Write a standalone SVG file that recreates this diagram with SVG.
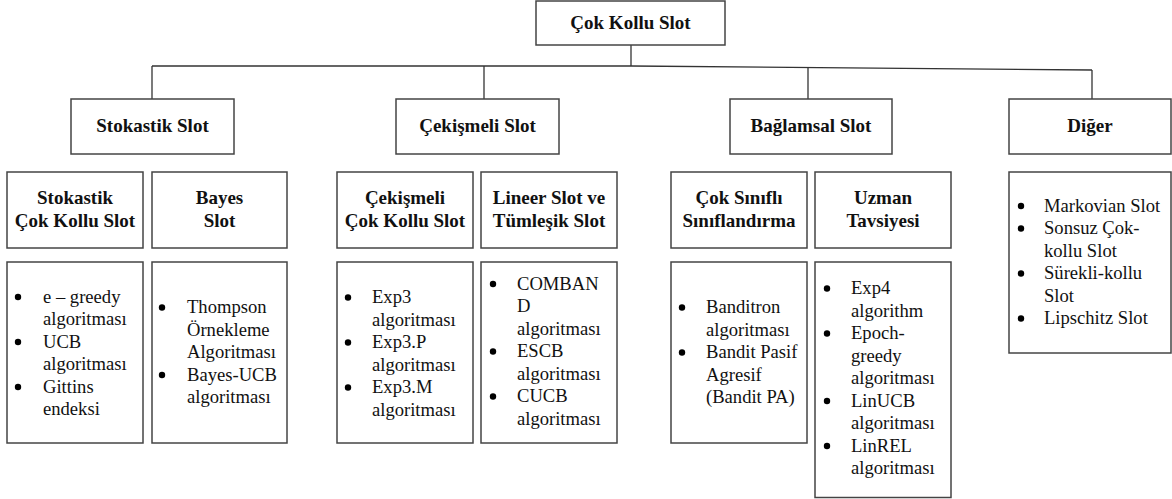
<svg xmlns="http://www.w3.org/2000/svg" width="1172" height="499" viewBox="0 0 1172 499">
  <style>
    .box { fill: #ffffff; stroke: #444444; stroke-width: 1.5; }
    .wire { fill: none; stroke: #333333; stroke-width: 1.3; }
    .head { font-family: "Liberation Serif", "Times New Roman", serif; font-weight: bold; font-size: 19px; fill: #111111; text-anchor: middle; }
    .item { font-family: "Liberation Serif", "Times New Roman", serif; font-size: 18.6px; fill: #111111; }
    .dot { fill: #000000; }
  </style>
  <defs>
    <circle id="bullet" r="3.2" class="dot"/>
  </defs>

  <rect width="1172" height="499" fill="#ffffff"/>

  <!-- tree connectors -->
  <g id="connectors">
    <path class="wire" d="M631,45 V66"/>
    <path class="wire" d="M152,66 H631 L1092,70"/>
    <path class="wire" d="M152,66 V99"/>
    <path class="wire" d="M484,66 V99"/>
    <path class="wire" d="M808,67.5 V99"/>
    <path class="wire" d="M1092,70 V99"/>
  </g>

  <!-- root -->
  <g id="root">
    <rect class="box" x="536" y="1" width="189" height="44"/>
    <text class="head" x="630.5" y="29">Çok Kollu Slot</text>
  </g>

  <!-- first level -->
  <g id="stokastik">
    <rect class="box" x="71" y="99" width="163" height="55"/>
    <text class="head" x="152.5" y="132">Stokastik Slot</text>
  </g>
  <g id="cekismeli">
    <rect class="box" x="396" y="99" width="163" height="55"/>
    <text class="head" x="477.5" y="132">Çekişmeli Slot</text>
  </g>
  <g id="baglamsal">
    <rect class="box" x="730" y="99" width="162" height="55"/>
    <text class="head" x="811" y="132">Bağlamsal Slot</text>
  </g>
  <g id="diger">
    <rect class="box" x="1009" y="99" width="162" height="55"/>
    <text class="head" x="1090" y="132">Diğer</text>
  </g>

  <!-- second level headers -->
  <g id="stokastik-cok-kollu">
    <rect class="box" x="7" y="172" width="136" height="76"/>
    <text class="head" x="75" y="204">Stokastik</text>
    <text class="head" x="75" y="226.5">Çok Kollu Slot</text>
  </g>
  <g id="bayes">
    <rect class="box" x="152" y="172" width="135" height="76"/>
    <text class="head" x="219.5" y="204">Bayes</text>
    <text class="head" x="219.5" y="226.5">Slot</text>
  </g>
  <g id="cekismeli-cok-kollu">
    <rect class="box" x="337" y="172" width="136" height="76"/>
    <text class="head" x="405" y="204">Çekişmeli</text>
    <text class="head" x="405" y="226.5">Çok Kollu Slot</text>
  </g>
  <g id="lineer-tumlesik">
    <rect class="box" x="481" y="172" width="136" height="76"/>
    <text class="head" x="549" y="204">Lineer Slot ve</text>
    <text class="head" x="549" y="226.5">Tümleşik Slot</text>
  </g>
  <g id="cok-sinifli">
    <rect class="box" x="671" y="172" width="136" height="76"/>
    <text class="head" x="739" y="204">Çok Sınıflı</text>
    <text class="head" x="739" y="226.5">Sınıflandırma</text>
  </g>
  <g id="uzman">
    <rect class="box" x="815" y="172" width="136" height="76"/>
    <text class="head" x="883" y="204">Uzman</text>
    <text class="head" x="883" y="226.5">Tavsiyesi</text>
  </g>

  <!-- algorithm lists -->
  <g id="list-stokastik">
    <rect class="box" x="7" y="262" width="136" height="181"/>
    <use href="#bullet" x="18" y="297"/>
    <use href="#bullet" x="18" y="342"/>
    <use href="#bullet" x="18" y="387"/>
    <text class="item" x="43" y="302.5">e – greedy</text>
    <text class="item" x="43" y="325">algoritması</text>
    <text class="item" x="43" y="347.5">UCB</text>
    <text class="item" x="43" y="370">algoritması</text>
    <text class="item" x="43" y="392.5">Gittins</text>
    <text class="item" x="43" y="415">endeksi</text>
  </g>
  <g id="list-bayes">
    <rect class="box" x="152" y="262" width="135" height="181"/>
    <use href="#bullet" x="162" y="307.5"/>
    <use href="#bullet" x="162" y="375"/>
    <text class="item" x="187" y="313">Thompson</text>
    <text class="item" x="187" y="335.5">Örnekleme</text>
    <text class="item" x="187" y="358">Algoritması</text>
    <text class="item" x="187" y="380.5">Bayes-UCB</text>
    <text class="item" x="187" y="403">algoritması</text>
  </g>
  <g id="list-cekismeli">
    <rect class="box" x="337" y="262" width="136" height="181"/>
    <use href="#bullet" x="348" y="297.5"/>
    <use href="#bullet" x="348" y="342.5"/>
    <use href="#bullet" x="348" y="387.5"/>
    <text class="item" x="372" y="303">Exp3</text>
    <text class="item" x="372" y="325.5">algoritması</text>
    <text class="item" x="372" y="348">Exp3.P</text>
    <text class="item" x="372" y="370.5">algoritması</text>
    <text class="item" x="372" y="393">Exp3.M</text>
    <text class="item" x="372" y="415.5">algoritması</text>
  </g>
  <g id="list-lineer">
    <rect class="box" x="481" y="262" width="136" height="181"/>
    <use href="#bullet" x="493" y="284"/>
    <use href="#bullet" x="493" y="351.5"/>
    <use href="#bullet" x="493" y="396.5"/>
    <text class="item" x="517" y="289.5">COMBAN</text>
    <text class="item" x="517" y="312">D</text>
    <text class="item" x="517" y="334.5">algoritması</text>
    <text class="item" x="517" y="357">ESCB</text>
    <text class="item" x="517" y="379.5">algoritması</text>
    <text class="item" x="517" y="402">CUCB</text>
    <text class="item" x="517" y="424.5">algoritması</text>
  </g>
  <g id="list-cok-sinifli">
    <rect class="box" x="671" y="262" width="136" height="181"/>
    <use href="#bullet" x="682" y="307.5"/>
    <use href="#bullet" x="682" y="352.5"/>
    <text class="item" x="706" y="313">Banditron</text>
    <text class="item" x="706" y="335.5">algoritması</text>
    <text class="item" x="706" y="358">Bandit Pasif</text>
    <text class="item" x="706" y="380.5">Agresif</text>
    <text class="item" x="706" y="403">(Bandit PA)</text>
  </g>
  <g id="list-uzman">
    <rect class="box" x="815" y="262" width="136" height="235.5"/>
    <use href="#bullet" x="827" y="288.5"/>
    <use href="#bullet" x="827" y="333.5"/>
    <use href="#bullet" x="827" y="401"/>
    <use href="#bullet" x="827" y="446"/>
    <text class="item" x="851" y="294">Exp4</text>
    <text class="item" x="851" y="316.5">algorithm</text>
    <text class="item" x="851" y="339">Epoch-</text>
    <text class="item" x="851" y="361.5">greedy</text>
    <text class="item" x="851" y="384">algoritması</text>
    <text class="item" x="851" y="406.5">LinUCB</text>
    <text class="item" x="851" y="429">algoritması</text>
    <text class="item" x="851" y="451.5">LinREL</text>
    <text class="item" x="851" y="474">algoritması</text>
  </g>
  <g id="list-diger">
    <rect class="box" x="1009" y="172" width="162" height="181"/>
    <use href="#bullet" x="1021" y="206"/>
    <use href="#bullet" x="1021" y="228.5"/>
    <use href="#bullet" x="1021" y="273.5"/>
    <use href="#bullet" x="1021" y="318.5"/>
    <text class="item" x="1044" y="211.5">Markovian Slot</text>
    <text class="item" x="1044" y="234">Sonsuz Çok-</text>
    <text class="item" x="1044" y="256.5">kollu Slot</text>
    <text class="item" x="1044" y="279">Sürekli-kollu</text>
    <text class="item" x="1044" y="301.5">Slot</text>
    <text class="item" x="1044" y="324">Lipschitz Slot</text>
  </g>
</svg>
